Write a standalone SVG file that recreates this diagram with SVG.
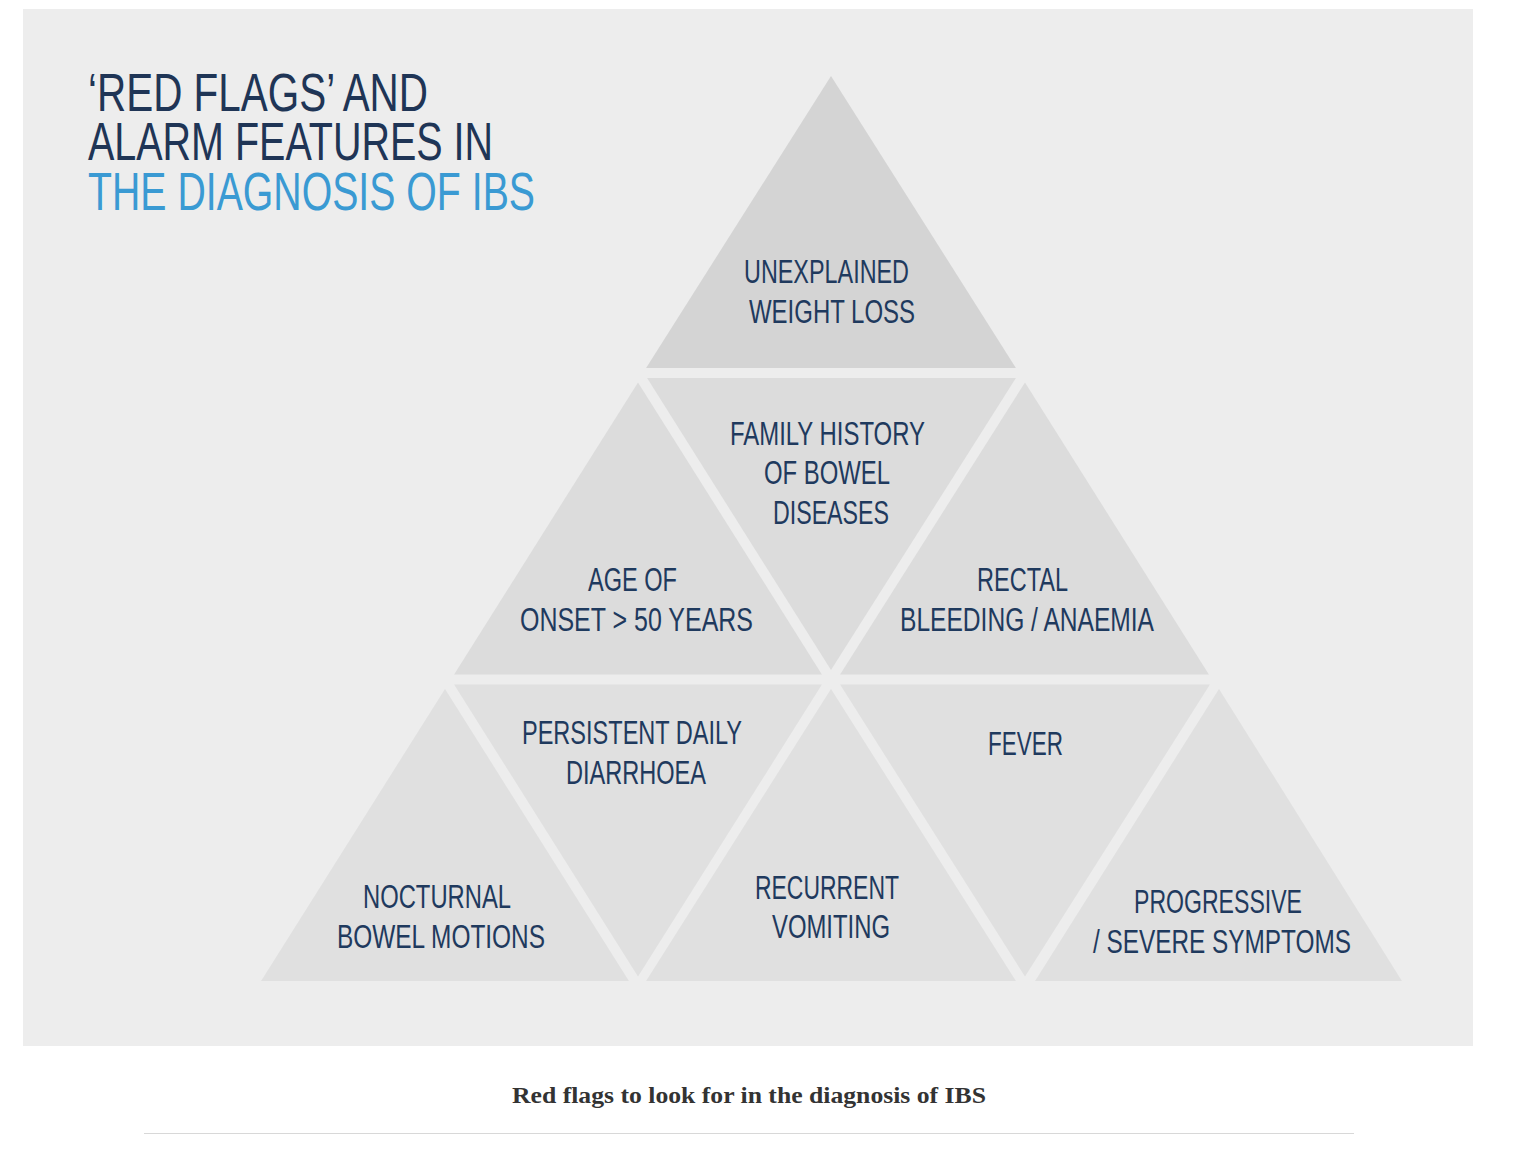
<svg xmlns="http://www.w3.org/2000/svg" width="1530" height="1152" viewBox="0 0 1530 1152">
<style>
.title{font-family:"Liberation Sans",Arial,sans-serif;font-size:53px;fill:#1f3556}
.blue{fill:#3a9ad3}
.lbl{font-family:"Liberation Sans",Arial,sans-serif;font-size:33px;fill:#1f3a5e}
.t1{fill:#d4d4d4}
.t2{fill:#dcdcdc}
.t3{fill:#e0e0e0}
.cap{font-family:"Liberation Serif","Times New Roman",serif;font-size:24px;font-weight:bold;fill:#333333}
</style>
<rect x="0" y="0" width="1530" height="1152" fill="#ffffff"/>
<rect x="23" y="9" width="1450" height="1037" fill="#ededed"/>
<g id="title">
<text class="title" x="88" y="111" textLength="340" lengthAdjust="spacingAndGlyphs">‘RED FLAGS’ AND</text>
<text class="title" x="88" y="160" textLength="405" lengthAdjust="spacingAndGlyphs">ALARM FEATURES IN</text>
<text class="title blue" x="88" y="210" textLength="447" lengthAdjust="spacingAndGlyphs">THE DIAGNOSIS OF IBS</text>
</g>
<g id="connectors"></g>
<g id="n-weight-loss">
<polygon class="t1" points="831,75.9 1015.9,368 646.1,368"/>
<text class="lbl" x="744" y="283" textLength="165" lengthAdjust="spacingAndGlyphs">UNEXPLAINED</text>
<text class="lbl" x="749" y="323" textLength="166" lengthAdjust="spacingAndGlyphs">WEIGHT LOSS</text>
</g>
<g id="n-age">
<polygon class="t2" points="638,382.4 821.9,674.5 454.1,674.5"/>
<text class="lbl" x="588" y="591" textLength="89" lengthAdjust="spacingAndGlyphs">AGE OF</text>
<text class="lbl" x="520" y="631" textLength="233" lengthAdjust="spacingAndGlyphs">ONSET &gt; 50 YEARS</text>
</g>
<g id="n-family">
<polygon class="t2" points="647.1,378 1015.9,378 831,670.1"/>
<text class="lbl" x="730" y="445" textLength="195" lengthAdjust="spacingAndGlyphs">FAMILY HISTORY</text>
<text class="lbl" x="764" y="484" textLength="126" lengthAdjust="spacingAndGlyphs">OF BOWEL</text>
<text class="lbl" x="773" y="524" textLength="116" lengthAdjust="spacingAndGlyphs">DISEASES</text>
</g>
<g id="n-rectal">
<polygon class="t2" points="1025,382.4 1208.9,674.5 840.1,674.5"/>
<text class="lbl" x="977" y="591" textLength="91" lengthAdjust="spacingAndGlyphs">RECTAL</text>
<text class="lbl" x="900" y="631" textLength="254" lengthAdjust="spacingAndGlyphs">BLEEDING / ANAEMIA</text>
</g>
<g id="n-nocturnal">
<polygon class="t3" points="445,688.9 628.9,981 261.1,981"/>
<text class="lbl" x="363" y="908" textLength="148" lengthAdjust="spacingAndGlyphs">NOCTURNAL</text>
<text class="lbl" x="337" y="948" textLength="208" lengthAdjust="spacingAndGlyphs">BOWEL MOTIONS</text>
</g>
<g id="n-diarrhoea">
<polygon class="t3" points="454.1,684.5 821.9,684.5 638,976.6"/>
<text class="lbl" x="522" y="744" textLength="220" lengthAdjust="spacingAndGlyphs">PERSISTENT DAILY</text>
<text class="lbl" x="566" y="784" textLength="140" lengthAdjust="spacingAndGlyphs">DIARRHOEA</text>
</g>
<g id="n-vomiting">
<polygon class="t3" points="831,688.9 1015.9,981 646.1,981"/>
<text class="lbl" x="755" y="899" textLength="144" lengthAdjust="spacingAndGlyphs">RECURRENT</text>
<text class="lbl" x="772" y="938" textLength="118" lengthAdjust="spacingAndGlyphs">VOMITING</text>
</g>
<g id="n-fever">
<polygon class="t3" points="840.1,684.5 1209.9,684.5 1025,976.6"/>
<text class="lbl" x="988" y="755" textLength="75" lengthAdjust="spacingAndGlyphs">FEVER</text>
</g>
<g id="n-progressive">
<polygon class="t3" points="1219,688.9 1401.9,981 1035.1,981"/>
<text class="lbl" x="1134" y="913" textLength="168" lengthAdjust="spacingAndGlyphs">PROGRESSIVE</text>
<text class="lbl" x="1093" y="953" textLength="258" lengthAdjust="spacingAndGlyphs">/ SEVERE SYMPTOMS</text>
</g>
<g id="caption">
<text class="cap" x="512" y="1103" textLength="474" lengthAdjust="spacingAndGlyphs">Red flags to look for in the diagnosis of IBS</text>
<line x1="144" y1="1133.5" x2="1354" y2="1133.5" stroke="#d8d8d8" stroke-width="1"/>
</g>
</svg>
